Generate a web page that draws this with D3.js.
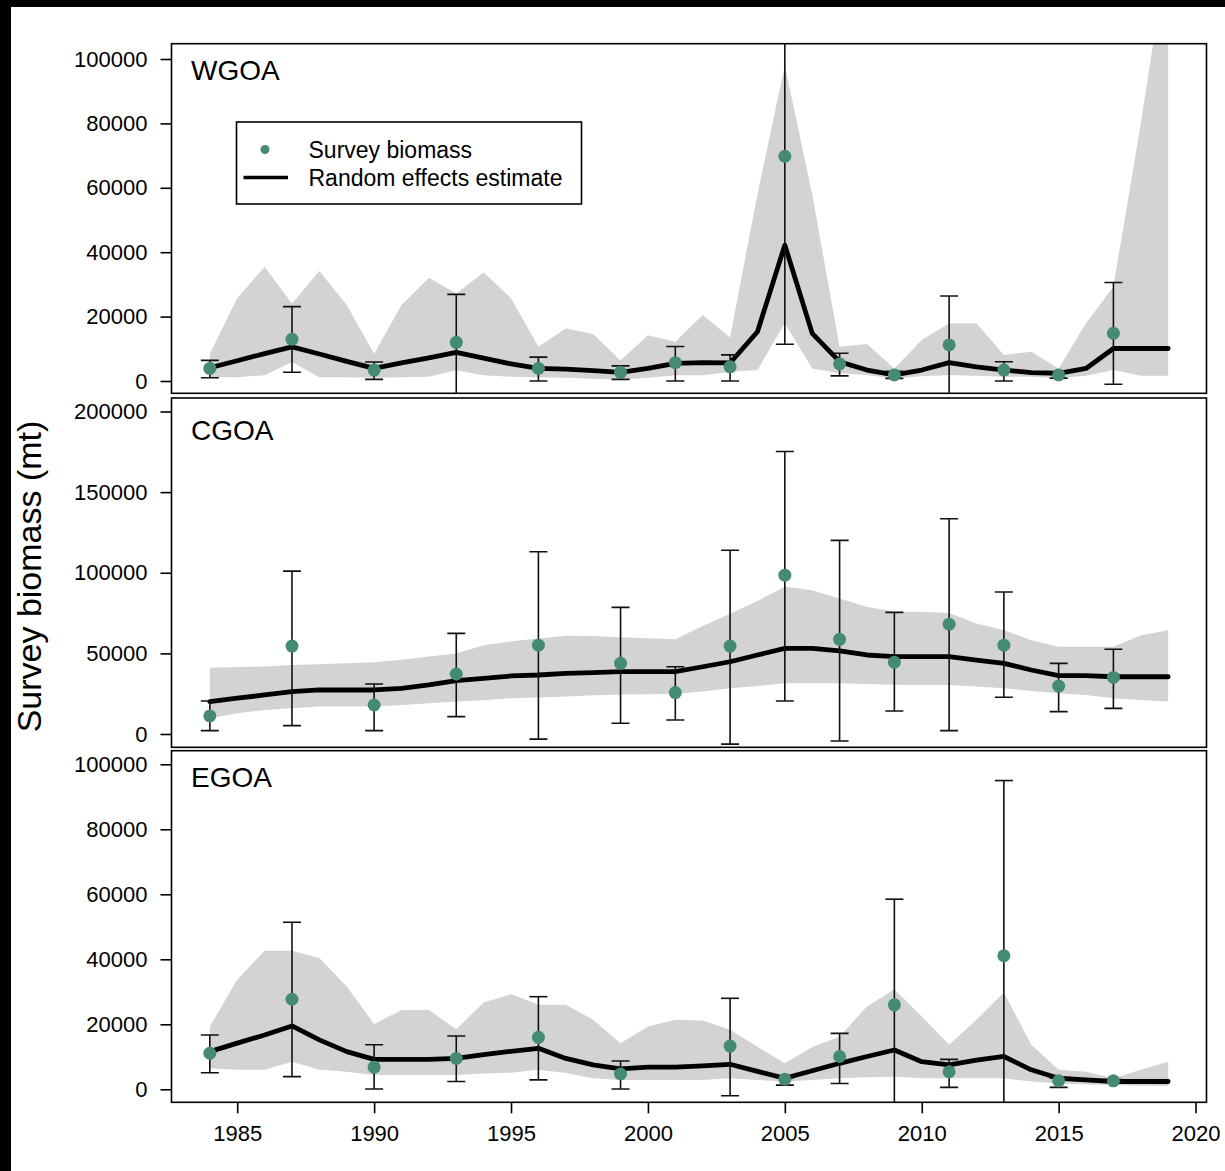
<!DOCTYPE html>
<html>
<head>
<meta charset="utf-8">
<script src="https://cdn.jsdelivr.net/npm/d3@7/dist/d3.min.js"></script>
<style>
    body { margin: 0; background: #fff; }
    text { font-family: "Liberation Sans", Arial, sans-serif; fill: #000; }
</style>
</head>
<body>
<div class="module-graph"></div>
<script>
"use strict"

// model years and survey years
const years = [1984, 1985, 1986, 1987, 1988, 1989, 1990, 1991, 1992, 1993, 1994, 1995,
    1996, 1997, 1998, 1999, 2000, 2001, 2002, 2003, 2004, 2005, 2006, 2007,
    2008, 2009, 2010, 2011, 2012, 2013, 2014, 2015, 2016, 2017, 2018, 2019];
const surveyYears = [1984, 1987, 1990, 1993, 1996, 1999, 2001, 2003, 2005, 2007, 2009, 2011, 2013, 2015, 2017];
const egoaSurveyYears = [1984, 1987, 1990, 1993, 1996, 1999, 2003, 2005, 2007, 2009, 2011, 2013, 2015, 2017];

// WGOA
const wgoaEst = [4100, 6300, 8500, 10600, 8400, 6100, 3900, 5600, 7200, 8900, 7100, 5300,
    3900, 3700, 3200, 2700, 3900, 5500, 5700, 5600, 15300, 42200, 14800, 6000,
    3400, 1900, 3400, 5700, 4400, 3400, 2600, 2400, 3900, 10100, 10100, 10100];
const wgoaLo = [1250, 1200, 1800, 5900, 1200, 1200, 1000, 1200, 1300, 3300, 1800, 1300,
    1200, 1000, 700, 400, 1000, 1800, 1800, 2800, 3400, 17900, 3900, 2400,
    1900, 800, 1500, 1900, 1600, 1300, 1300, 900, 1600, 3400, 1600, 1600];
const wgoaHi = [8500, 25700, 35500, 24100, 34200, 23600, 8500, 23600, 32100, 27200, 33700, 25700,
    10600, 16300, 14600, 6400, 14200, 12200, 20500, 13500, 58000, 98000, 58000, 10600,
    11500, 3900, 12700, 17900, 17900, 8100, 9100, 3900, 17900, 29300, 80000, 135000];
const wgoaObs = [3900, 13000, 3400, 12000, 3900, 2700, 5700, 4400, 69800, 5300, 1900, 11200, 3400, 1900, 14800];
const wgoaObsLo = [1000, 2700, 500, -8000, 0, 500, 0, 0, 11400, 1600, 800, -6000, 0, 900, -1000];
const wgoaObsHi = [6400, 23100, 5900, 26900, 7400, 4700, 10700, 8100, 130000, 8600, 3000, 26400, 6000, 2800, 30600];

// CGOA
const cgoaEst = [20100, 22200, 24200, 26300, 27300, 27300, 27300, 28300, 30400, 33100, 34500, 36000,
    36600, 37600, 38000, 38700, 38700, 38700, 41700, 44800, 49000, 53100, 53100, 51600,
    49000, 48000, 48000, 48000, 45800, 43800, 39700, 36200, 36200, 35500, 35500, 35500];
const cgoaLo = [9700, 12800, 14900, 15900, 17000, 17000, 17000, 18000, 19000, 20100, 21000, 22200,
    22700, 23200, 24000, 24500, 24700, 25000, 26300, 28300, 29800, 31400, 31400, 31400,
    31000, 30600, 30400, 30400, 29500, 28300, 26700, 25200, 24200, 22200, 21100, 20100];
const cgoaHi = [41100, 41500, 41900, 42800, 43300, 43800, 44500, 46000, 48000, 50000, 55100, 57500,
    59200, 61000, 60800, 60000, 59400, 58700, 67000, 74500, 82500, 91300, 89200, 84000,
    78900, 75800, 75800, 75100, 68500, 64400, 58200, 54100, 54100, 54100, 61300, 64400];
const cgoaObs = [11200, 54500, 18000, 37200, 55100, 43800, 25700, 54500, 98500, 58700, 44500, 68100, 55100, 29700, 35100];
const cgoaObsLo = [2100, 5200, 2100, 10800, -3200, 6700, 8700, -6300, 20500, -4300, 14300, 2100, 22800, 13900, 15900];
const cgoaObsHi = [20500, 101000, 31000, 62400, 113000, 78500, 41700, 114000, 175200, 120100, 75400, 133500, 88100, 43800, 52600];

// EGOA
const egoaEst = [11600, 14200, 16700, 19500, 15200, 11600, 9200, 9200, 9200, 9500, 10700, 11700,
    12600, 9500, 7500, 6300, 6800, 6800, 7200, 7700, 5500, 3400, 5700, 8000,
    10100, 12100, 8500, 7500, 9000, 10100, 6000, 3400, 2900, 2400, 2400, 2400];
const egoaLo = [6500, 6000, 6000, 8500, 6000, 5400, 4400, 4400, 4400, 4400, 4900, 5100,
    6000, 5000, 3400, 2900, 2900, 2900, 2900, 3400, 2900, 2400, 2900, 3400,
    3700, 3900, 3400, 3400, 3400, 3400, 2400, 1800, 1500, 1300, 1100, 1000];
const egoaHi = [19300, 33700, 42600, 42600, 40400, 31600, 20100, 24400, 24400, 18500, 26700, 29300,
    26000, 26000, 21400, 14200, 19300, 21400, 21200, 18300, 13100, 8000, 13000, 16200,
    25500, 30800, 22400, 13700, 21400, 29800, 13700, 6000, 5400, 3400, 6000, 8500];
const egoaObs = [11100, 27700, 6800, 9500, 16000, 4700, 13300, 3100, 10100, 26000, 5400, 41100, 2600, 2600];
const egoaObsLo = [5100, 3900, 100, 2400, 2900, 100, -2000, 1300, 1800, -10000, 600, -15000, 600, 2200];
const egoaObsHi = [16700, 51400, 13700, 16400, 28500, 8700, 28000, 3600, 17200, 58500, 9200, 95000, 3400, 3000];

const xTicks = [1985, 1990, 1995, 2000, 2005, 2010, 2015, 2020];
const yTicksSmall = [0, 20000, 40000, 60000, 80000, 100000];
const yTicksBig = [0, 50000, 100000, 150000, 200000];

const width = 1225,
    height = 1171,
    left = 171.5,
    right = 1206.5;

const panels = [
    {name: "WGOA", top: 43.7, bottom: 393.3, y0: 381, yMax: 100000, yMaxPx: 59, ticks: yTicksSmall, labelY: 80,
        est: wgoaEst, lo: wgoaLo, hi: wgoaHi, sYears: surveyYears, obs: wgoaObs, obsLo: wgoaObsLo, obsHi: wgoaObsHi},
    {name: "CGOA", top: 398, bottom: 747.3, y0: 734, yMax: 200000, yMaxPx: 411.5, ticks: yTicksBig, labelY: 440,
        est: cgoaEst, lo: cgoaLo, hi: cgoaHi, sYears: surveyYears, obs: cgoaObs, obsLo: cgoaObsLo, obsHi: cgoaObsHi},
    {name: "EGOA", top: 750.7, bottom: 1102.3, y0: 1089.3, yMax: 100000, yMaxPx: 764.3, ticks: yTicksSmall, labelY: 787,
        est: egoaEst, lo: egoaLo, hi: egoaHi, sYears: egoaSurveyYears, obs: egoaObs, obsLo: egoaObsLo, obsHi: egoaObsHi}
];

const svg = d3.select("div.module-graph").append("svg")
    .attr("width", width)
    .attr("height", height)
    .style("display", "block");

svg.append("rect")
    .attr("width", width)
    .attr("height", height)
    .attr("fill", "#fff");

const scaleX = d3.scaleLinear()
    .domain([1982.6, 2020.4])
    .range([left, right]);

panels.forEach((p, i) => {
    const scaleY = d3.scaleLinear()
        .domain([0, p.yMax])
        .range([p.y0, p.yMaxPx]);

    svg.append("clipPath")
        .attr("id", "clip" + i)
        .append("rect")
        .attr("x", left)
        .attr("y", p.top)
        .attr("width", right - left)
        .attr("height", p.bottom - p.top);

    const g = svg.append("g").attr("clip-path", "url(#clip" + i + ")");

    const band = years.map((yr, k) => ({year: yr, lo: p.lo[k], hi: p.hi[k], est: p.est[k]}));
    const pts = p.sYears.map((yr, k) => ({year: yr, v: p.obs[k], lo: p.obsLo[k], hi: p.obsHi[k]}));

    // confidence band
    g.append("path")
        .attr("d", d3.area()
            .x(d => scaleX(d.year))
            .y0(d => scaleY(d.lo))
            .y1(d => scaleY(d.hi))(band))
        .attr("fill", "#d3d3d3");

    // random effects estimate
    g.append("path")
        .attr("d", d3.line()
            .x(d => scaleX(d.year))
            .y(d => scaleY(d.est))(band))
        .attr("fill", "none")
        .attr("stroke", "#000")
        .attr("stroke-width", 4.8)
        .attr("stroke-linejoin", "round")
        .attr("stroke-linecap", "round");

    // error bars
    const bars = g.append("g")
        .attr("stroke", "#111")
        .attr("stroke-width", 1.6);
    pts.forEach(d => {
        const cx = scaleX(d.year);
        bars.append("line")
            .attr("x1", cx).attr("x2", cx)
            .attr("y1", scaleY(d.lo)).attr("y2", scaleY(d.hi));
        bars.append("line")
            .attr("x1", cx - 9).attr("x2", cx + 9)
            .attr("y1", scaleY(d.lo)).attr("y2", scaleY(d.lo));
        bars.append("line")
            .attr("x1", cx - 9).attr("x2", cx + 9)
            .attr("y1", scaleY(d.hi)).attr("y2", scaleY(d.hi));
    });

    // survey points
    g.selectAll("circle.dot")
        .data(pts)
        .enter()
        .append("circle")
        .attr("class", "dot")
        .attr("cx", d => scaleX(d.year))
        .attr("cy", d => scaleY(d.v))
        .attr("r", 6.5)
        .attr("fill", "#458b74");

    // frame
    svg.append("rect")
        .attr("x", left)
        .attr("y", p.top)
        .attr("width", right - left)
        .attr("height", p.bottom - p.top)
        .attr("fill", "none")
        .attr("stroke", "#000")
        .attr("stroke-width", 1.6);

    svg.append("text")
        .attr("x", 191)
        .attr("y", p.labelY)
        .style("font-size", "28px")
        .text(p.name);

    const yAxis = d3.axisLeft(scaleY)
        .tickValues(p.ticks)
        .tickFormat(d3.format("d"))
        .tickSize(11)
        .tickPadding(13);

    const ya = svg.append("g")
        .attr("class", "y-axis")
        .attr("transform", "translate(" + left + ",0)")
        .call(yAxis);
    ya.select(".domain").remove();
    ya.selectAll("line").attr("stroke", "#000").attr("stroke-width", 1.6);
    ya.selectAll("text").style("font-size", "22px").attr("fill", "#000");
});

const xAxis = d3.axisBottom(scaleX)
    .tickValues(xTicks)
    .tickFormat(d3.format("d"))
    .tickSize(11)
    .tickPadding(12.5);

const xa = svg.append("g")
    .attr("class", "x-axis")
    .attr("transform", "translate(0," + panels[2].bottom + ")")
    .call(xAxis);
xa.select(".domain").remove();
xa.selectAll("line").attr("stroke", "#000").attr("stroke-width", 1.6);
xa.selectAll("text").style("font-size", "22px").attr("fill", "#000");

svg.append("text")
    .attr("transform", "translate(41,576.5) rotate(-90)")
    .attr("text-anchor", "middle")
    .style("font-size", "34px")
    .text("Survey biomass (mt)");

// legend
const legend = svg.append("g");
legend.append("rect")
    .attr("x", 236.5)
    .attr("y", 122)
    .attr("width", 345)
    .attr("height", 82)
    .attr("fill", "#fff")
    .attr("stroke", "#000")
    .attr("stroke-width", 1.6);
legend.append("circle")
    .attr("cx", 265)
    .attr("cy", 149.5)
    .attr("r", 4.5)
    .attr("fill", "#458b74");
legend.append("line")
    .attr("x1", 243.5)
    .attr("x2", 288)
    .attr("y1", 177.5)
    .attr("y2", 177.5)
    .attr("stroke", "#000")
    .attr("stroke-width", 3.5);
legend.append("text")
    .attr("x", 308.5)
    .attr("y", 157.8)
    .style("font-size", "23px")
    .text("Survey biomass");
legend.append("text")
    .attr("x", 308.5)
    .attr("y", 185.8)
    .style("font-size", "23px")
    .text("Random effects estimate");

// black border of the original picture
svg.append("rect").attr("x", 0).attr("y", 0).attr("width", width).attr("height", 7).attr("fill", "#000");
svg.append("rect").attr("x", 0).attr("y", 0).attr("width", 11).attr("height", height).attr("fill", "#000");
</script>
</body>
</html>
